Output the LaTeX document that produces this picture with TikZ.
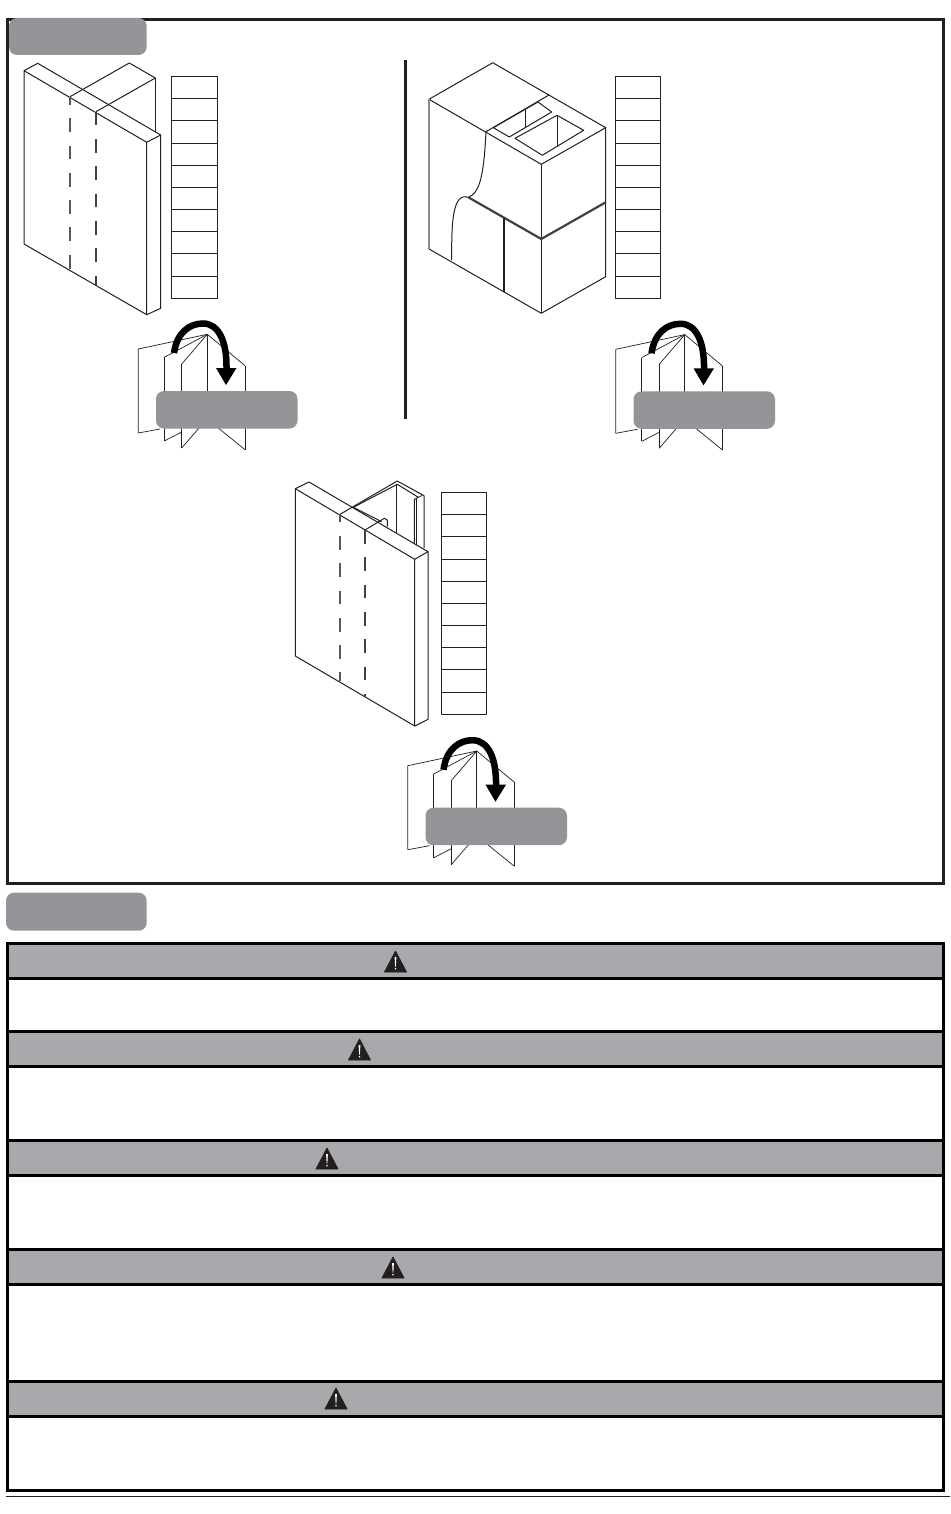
\documentclass[tikz,border=0pt]{standalone}
\definecolor{lab}{HTML}{939598}
\definecolor{hdr}{HTML}{A7A9AC}
\definecolor{ink}{HTML}{231F20}
\tikzset{
  ln/.style={draw=ink,line width=1pt,line join=round},
  thin ln/.style={draw=ink,line width=0.7pt,line join=round},
  frm/.style={draw=ink,line width=3pt},
  sep/.style={draw=black,line width=3pt},
  dashgray/.style={draw=black!65,line width=1.4pt,dash pattern=on 13.7pt off 13.6pt},
}
\newcommand{\ladder}[2]{%
  \begin{scope}[shift={(#1,#2)}]
  \draw[ln] (0,0) rectangle (45.5,222);
  \foreach \yy in {22,44,67,89,111,133,155,177,200}{\draw[ln] (0,\yy) -- (45.5,\yy);}
  \end{scope}}
\newcommand{\foldicon}[2]{%
  \begin{scope}[shift={(#1,#2)}]
  \draw[thin ln] (138.3,433) -- (138.3,349) -- (207.3,334.3);
  \draw[thin ln] (164.3,357.3) -- (207.3,334.3);
  \draw[ln] (164.3,357.3) -- (164.3,441);
  \draw[thin ln] (164.3,441) -- (181.7,432);
  \draw[thin ln] (181.7,364) -- (207.3,334.3);
  \draw[draw=ink,line width=1.2pt] (181.7,364) -- (181.7,448);
  \draw[thin ln] (181.7,448) -- (199,428);
  \draw[ln] (207.3,334.3) -- (207.3,395);
  \draw[thin ln] (207.3,334.3) -- (245,365.7);
  \draw[ln] (245,365.7) -- (245,449.7);
  \draw[thin ln] (245,449.7) -- (218.3,428);
  \draw[thin ln] (138.3,433) -- (160,429);
  \draw[black,line width=6.5pt] (174,353) .. controls (177,332) and (190,323.5) .. (203,323.5) .. controls (219,323.5) and (227,342) .. (226.5,369);
  \fill[black] (216,368) -- (236.5,368) -- (226,385) -- cycle;
  \fill[lab,rounded corners=8pt] (156,391) rectangle (297.5,428.5);
  \end{scope}}
\newcommand{\warn}[2]{%
  \begin{scope}[shift={(#1,#2)}]
  \fill[ink,draw=ink,line width=0.8pt,line join=round] (0,-10.5) -- (11,10.5) -- (-11,10.5) -- cycle;
  \fill[white] (-0.9,-4.5) -- (0.9,-4.5) -- (0.35,5) -- (-0.35,5) -- cycle;
  \fill[white] (0,7.3) circle (0.9);
  \end{scope}}
\begin{document}
\begin{tikzpicture}[x=1pt,y=-1pt]
\useasboundingbox (0,0) rectangle (950,1514);
\fill[white] (0,0) rectangle (950,1514);
% upper frame
\draw[frm] (7.5,19.5) rectangle (943.5,883.5);
\fill[lab,rounded corners=8pt] (9,18) rectangle (146.7,55);
% block 1
\draw[ln] (24,70.7) -- (146.7,142.3) -- (146.7,314.7) -- (24,244) -- cycle;
\draw[ln] (24,70.7) -- (37.7,63.3) -- (160.7,135) -- (146.7,142.3);
\draw[ln] (160.7,135) -- (160.7,308.3) -- (146.7,314.7);
\draw[ln] (70,96.7) -- (129.3,63) -- (155.3,78) -- (96,111.7);
\draw[ln] (155.3,78) -- (155.3,131.7);
\draw[dashgray,dash phase=5.7pt] (70,96.7) -- (70,269.3);
\draw[dashgray,draw=black!75] (96,111.7) -- (96,285);
\ladder{171.5}{76.3}
\foldicon{0}{0}
% divider
\draw[ink,line width=3pt] (405.5,60) -- (405.5,419);
% block 2
\draw[ln] (429,99.3) -- (492.7,62.7) -- (605.7,127.7) -- (541.3,164.3) -- cycle;
\draw[black!45,line width=1.2pt] (429,99.3) -- (429,249);
\draw[ln] (429,249) -- (541.3,313.3) -- (605.7,276.7) -- (605.7,127.7);
\draw[ln] (541.3,164.3) -- (541.3,313.3);
\draw[ln] (486,131.7) -- (549,95);
\draw[ln] (493.3,127.7) -- (538,102) -- (551.7,112) -- (509.3,137) -- cycle;
\draw[ln] (525.7,109.3) -- (525.7,127.3);
\draw[ln] (515,138.3) -- (557,115.3) -- (583.7,130.3) -- (542.3,155.3) -- cycle;
\draw[ln] (557,115.3) -- (557,146.7);
\draw[ln] (486,131.7) .. controls (484,170) and (481,193) .. (468.3,197.3) .. controls (452,192) and (451.5,225) .. (451.7,260);
\draw[draw=black!75,line width=2.2pt] (468.3,197.3) -- (541.3,239) -- (605.7,202.3);
\draw[ink,line width=1.8pt] (504,218.3) -- (504,291.7);
\ladder{615.3}{76.3}
\foldicon{477.5}{0.3}
% block 3
\draw[ln] (295.3,488.7) -- (414.7,559.3) -- (414.7,726) -- (295.3,656) -- cycle;
\draw[ln] (295.3,488.7) -- (309,482) -- (428,551.7) -- (414.7,559.3);
\draw[ln] (428,551.7) -- (428,719.3) -- (414.7,726);
\draw[dashgray,dash phase=5.7pt] (340,514.3) -- (340,680.7);
\draw[dashgray,draw=black!75] (365,530) -- (365,697.3);
\draw[ln] (340,514.3) -- (397.3,481) -- (424,495.7) -- (424,548);
\draw[ln] (353.3,507.3) -- (397.3,484.3) -- (418.3,497.3) -- (414.3,499.5) -- (414.3,543.3);
\draw[thin ln] (416.7,499) -- (416.7,545);
\draw[thin ln] (418.3,497.3) -- (422,495.5);
\draw[ln] (396.7,484.3) -- (396.7,533.3);
\draw[ln] (353.3,507.3) -- (381.7,521.7);
\draw[ln] (365,530) -- (384.3,518.3) -- (387.3,520) -- (387.3,526.7);
\ladder{441.3}{492.3}
\foldicon{269.5}{416.7}
% lower label
\fill[lab,rounded corners=8pt] (6,892.7) rectangle (146.7,930.7);
% warning table
\fill[hdr] (7.5,943.5) rectangle (943.5,978.5);
\fill[hdr] (7.5,1031.5) rectangle (943.5,1066.5);
\fill[hdr] (7.5,1140.5) rectangle (943.5,1175.5);
\fill[hdr] (7.5,1249.5) rectangle (943.5,1284.5);
\fill[hdr] (7.5,1381.5) rectangle (943.5,1416.5);
\draw[sep] (7.5,943.5) rectangle (943.5,1490.5);
\foreach \yy in {978.5,1031.5,1066.5,1140.5,1175.5,1249.5,1284.5,1381.5,1416.5}{\draw[sep] (7.5,\yy) -- (943.5,\yy);}
\warn{395.5}{961.5}
\warn{359.5}{1049.5}
\warn{327}{1158.5}
\warn{393}{1267.5}
\warn{336}{1398.5}
\draw[ink,line width=1pt] (6,1496.5) -- (950,1496.5);
\end{tikzpicture}
\end{document}
